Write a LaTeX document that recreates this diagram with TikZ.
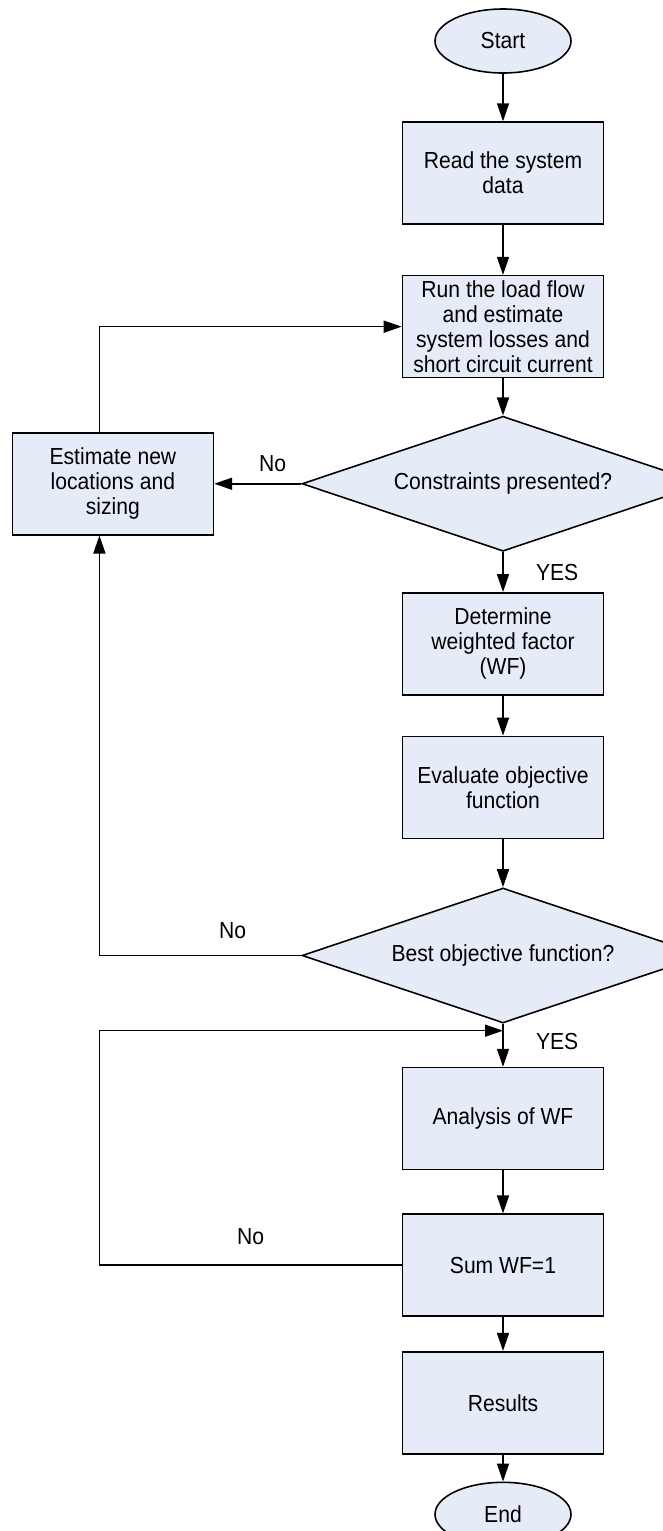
\documentclass[tikz,border=0pt]{standalone}
\usepackage{fontspec}
\setmainfont{Liberation Sans}[FakeStretch=0.91]
\usetikzlibrary{arrows.meta,positioning,shapes.geometric,calc}
\definecolor{boxfill}{RGB}{230,236,247}
\tikzstyle{process}=[rectangle,draw=black,fill=boxfill,line width=0.9pt,
minimum width=4.02cm,minimum height=2.04cm,align=center,inner sep=0pt]
\tikzstyle{terminal}=[ellipse,draw=black,fill=boxfill,line width=0.9pt,
minimum width=2.72cm,minimum height=1.28cm,inner sep=0pt]
\tikzstyle{decision}=[diamond,draw=black,fill=boxfill,line width=0.9pt,
aspect=2.98,minimum width=8.04cm,minimum height=2.7cm,inner sep=0pt]
\tikzstyle{flow}=[line width=0.9pt]
\begin{document}
\begin{tikzpicture}[node distance=0.8cm, >={Triangle[length=3.6mm,width=2.4mm]},
  font=\fontsize{13.2}{14.2}\selectfont]
            \useasboundingbox (0,0) rectangle (13.26,-30.62);

            % MAIN COLUMN

            \node[terminal] (start) at (10.06,-0.82) {Start};
            \node[process,below=0.95cm of start] (read) {Read the system\\data};
            \node[process,below=1cm of read] (run) {Run the load flow\\and estimate\\system losses and\\short circuit current};
            \node[decision,below=0.74cm of run] (cons) {Constraints presented?};
            \node[process,left=1.74cm of cons] (est) {Estimate new\\locations and\\sizing};
            \node[process,below=0.8cm of cons] (det) {Determine\\weighted factor\\(WF)};
            \node[process,below=0.8cm of det] (eval) {Evaluate objective\\function};
            \node[decision,below=0.96cm of eval] (best) {Best objective function?};
            \node[process,below=0.86cm of best] (anal) {Analysis of WF};
            \node[process,below=0.86cm of anal] (sum) {Sum WF=1};
            \node[process,below=0.68cm of sum] (res) {Results};
            \node[terminal,below=0.54cm of res] (end) {End};

            \path[flow,->] (start) edge (read);
            \path[flow,->] (read) edge (run);
            \path[flow,->] (run) edge (cons);
            \path[flow,->] (cons) edge node[right=15pt] {YES} (det);
            \path[flow,->] (det) edge (eval);
            \path[flow,->] (eval) edge (best);
            \path[flow,->] (best) edge node[right=15pt,pos=0.42] {YES} (anal);
            \path[flow,->] (anal) edge (sum);
            \path[flow,->] (sum) edge (res);
            \path[flow,->] (res) edge (end);

            % LOOPS BACK

            \coordinate (rail) at ([xshift=-0.27cm]est.north);
            \coordinate (merge) at ($(best.south)!0.16!(anal.north)$);

            \path[flow,->] (cons.west) edge node[above=3pt,pos=0.33] {No} (est.east);
            \draw[flow,->] (est.north -| rail) |- (run.west);
            \draw[flow,->] (best.west) -| node[above=6pt,pos=0.17] {No} (est.south -| rail);
            \draw[flow,->] (sum.west) -| node[above=8pt,pos=0.25] {No} (rail |- merge) -- (merge);

\end{tikzpicture}
\end{document}
